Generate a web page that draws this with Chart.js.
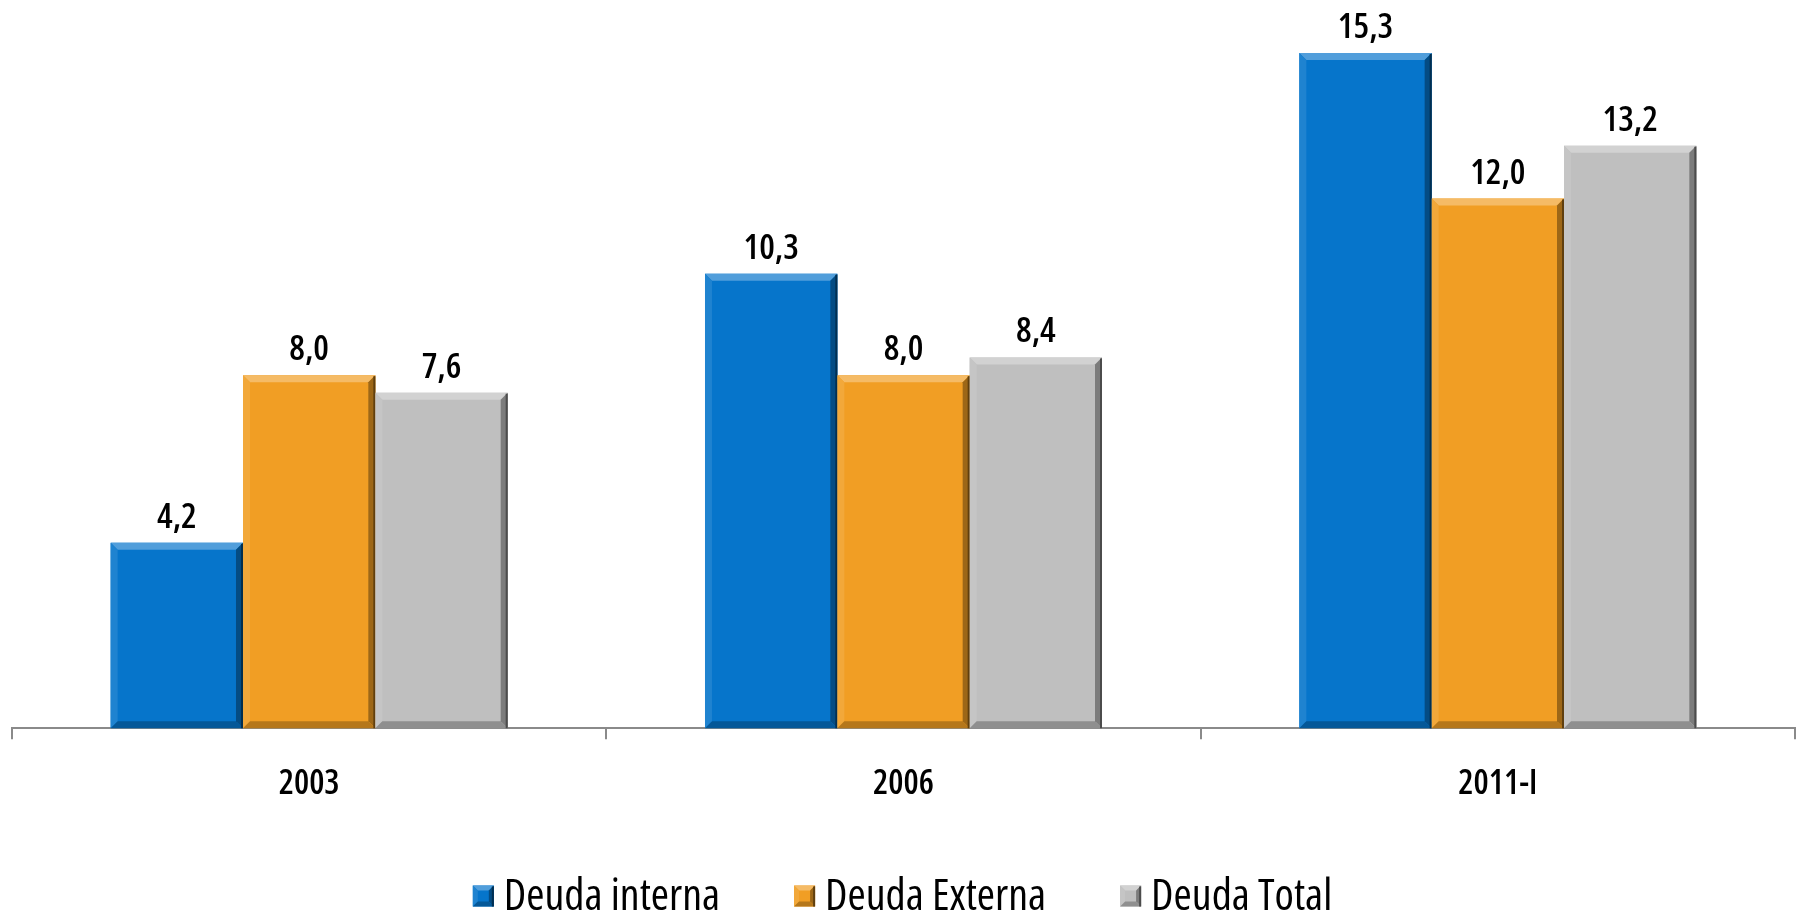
<!DOCTYPE html>
<html>
<head>
<meta charset="utf-8">
<title>Deuda</title>
<style>
  html, body { margin: 0; padding: 0; background: #fff; }
  #wrap { width: 1801px; height: 919px; }
</style>
<script src="https://cdn.jsdelivr.net/npm/chart.js@4.4.1/dist/chart.umd.min.js"></script>
</head>
<body>
<div id="wrap"><canvas id="debtChart"></canvas></div>
<script>
const periods = ['2003', '2006', '2011-I'];
const deudaInterna = [4.2, 10.3, 15.3];
const deudaExterna = [8.0, 8.0, 12.0];
const deudaTotal = [7.6, 8.4, 13.2];
const seriesNames = ['Deuda interna', 'Deuda Externa', 'Deuda Total'];
const seriesColors = ['#0675CB', '#F19E24', '#BFBFBF'];

// Open Sans is variable here, so "condensed" gives a narrow face
const family = '"Open Sans", sans-serif';

// amt > 0 blends towards white, amt < 0 towards black
function shade(hex, amt) {
    const n = parseInt(hex.slice(1), 16);
    const t = amt < 0 ? 0 : 255;
    const p = Math.abs(amt);
    const mix = c => Math.round(c + (t - c) * p);
    return `rgb(${mix(n >> 16)}, ${mix((n >> 8) & 255)}, ${mix(n & 255)})`;
}

function poly(ctx, pts, fill) {
    ctx.beginPath();
    ctx.moveTo(pts[0][0], pts[0][1]);
    pts.slice(1).forEach(p => ctx.lineTo(p[0], p[1]));
    ctx.closePath();
    ctx.fillStyle = fill;
    ctx.fill();
}

// Beveled frame on top of a flat rectangle
function bevelRect(ctx, left, top, right, bottom, color, b) {
    poly(ctx, [[left, top], [right, top], [right - b, top + b], [left + b, top + b]], shade(color, 0.3));
    poly(ctx, [[left, top], [left + b, top + b], [left + b, bottom - b], [left, bottom]], shade(color, 0.1));
    poly(ctx, [[right, top], [right, bottom], [right - b, bottom - b], [right - b, top + b]], shade(color, -0.35));
    poly(ctx, [[left, bottom], [left + b, bottom - b], [right - b, bottom - b], [right, bottom]], shade(color, -0.25));
    ctx.strokeStyle = shade(color, -0.6);
    ctx.lineWidth = 2;
    ctx.beginPath();
    ctx.moveTo(right - 1, top + 1);
    ctx.lineTo(right - 1, bottom);
    ctx.stroke();
}

const barBevel = {
    id: 'barBevel',
    afterDatasetsDraw(chart) {
        const ctx = chart.ctx;
        ctx.save();
        chart.data.datasets.forEach((ds, i) => {
            chart.getDatasetMeta(i).data.forEach(bar => {
                const { x, y, base, width } = bar.getProps(['x', 'y', 'base', 'width'], true);
                bevelRect(ctx, x - width / 2, y, x + width / 2, base, ds.backgroundColor, 7);
            });
        });
        ctx.restore();
    }
};

const valueLabels = {
    id: 'valueLabels',
    afterDatasetsDraw(chart) {
        const ctx = chart.ctx;
        ctx.save();
        ctx.font = `600 condensed 35px ${family}`;
        ctx.fillStyle = '#000';
        ctx.textAlign = 'center';
        ctx.textBaseline = 'alphabetic';
        chart.data.datasets.forEach((ds, i) => {
            chart.getDatasetMeta(i).data.forEach((bar, j) => {
                const text = ds.data[j].toFixed(1).replace('.', ',');
                ctx.fillText(text, bar.x, bar.y - 15);
            });
        });
        ctx.restore();
    }
};

// Legend row drawn under the axis labels
const legendRow = {
    id: 'legendRow',
    afterDraw(chart) {
        const ctx = chart.ctx;
        const box = 21, gap = 10, spacing = 74, cy = 896;
        ctx.save();
        ctx.font = `condensed 44px ${family}`;
        ctx.textBaseline = 'middle';
        ctx.textAlign = 'left';
        const items = chart.data.datasets.map(ds => ({
            text: ds.label,
            color: ds.backgroundColor,
            w: box + gap + ctx.measureText(ds.label).width
        }));
        const total = items.reduce((s, it) => s + it.w, 0) + spacing * (items.length - 1);
        let x = chart.width / 2 + 2 - total / 2;
        items.forEach(it => {
            const top = cy - box / 2;
            ctx.fillStyle = it.color;
            ctx.fillRect(x, top, box, box);
            bevelRect(ctx, x, top, x + box, top + box, it.color, 5);
            ctx.fillStyle = '#000';
            ctx.fillText(it.text, x + box + gap, cy + 1);
            x += it.w + spacing;
        });
        ctx.restore();
    }
};

const seriesData = [deudaInterna, deudaExterna, deudaTotal];

new Chart(document.getElementById('debtChart'), {
    type: 'bar',
    data: {
        labels: periods,
        datasets: seriesData.map((values, i) => ({
            label: seriesNames[i],
            data: values,
            backgroundColor: seriesColors[i],
            borderWidth: 0,
            barPercentage: 1.0,
            categoryPercentage: 0.668
        }))
    },
    options: {
        responsive: true,
        maintainAspectRatio: false,
        animation: false,
        layout: {
            padding: { top: 0, left: 12, right: 6, bottom: 89 }
        },
        plugins: {
            legend: { display: false },
            tooltip: { enabled: false }
        },
        scales: {
            x: {
                grid: {
                    display: true,
                    drawOnChartArea: false,
                    drawTicks: true,
                    tickLength: 11,
                    offset: true,
                    color: '#8a8a8a',
                    lineWidth: 2
                },
                border: { display: true, color: '#8a8a8a', width: 2 },
                ticks: {
                    color: '#000',
                    padding: 25,
                    font: { family: family, size: 34, weight: '600 condensed' }
                }
            },
            y: {
                display: false,
                min: 0,
                max: 16.5
            }
        }
    },
    plugins: [barBevel, valueLabels, legendRow]
});
</script>
</body>
</html>
